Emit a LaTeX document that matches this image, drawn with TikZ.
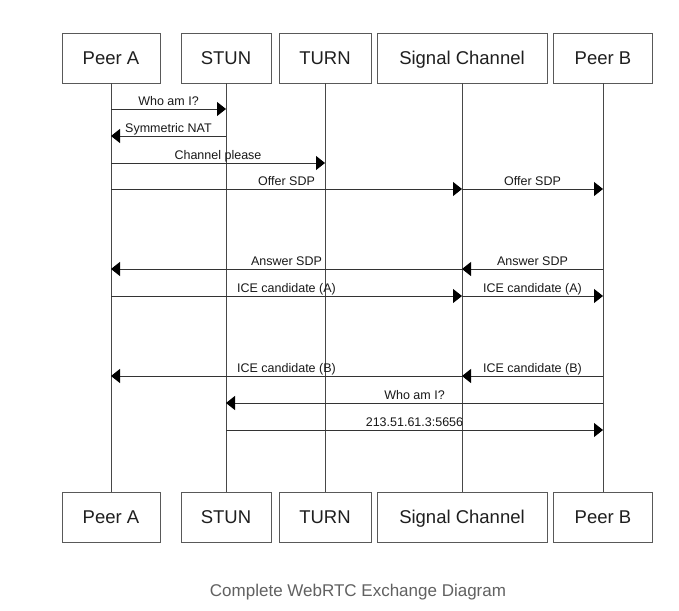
\documentclass[tikz,border=0pt]{standalone}
\usepackage{fontspec}
\setmainfont{Liberation Sans}
\usetikzlibrary{arrows.meta}
\begin{document}
\begin{tikzpicture}[x=1pt,y=-1pt,
  actor/.style={draw=black!65, line width=0.9pt, minimum height=50pt, inner sep=0pt,
    text height=13.2pt, text depth=0pt,
    font=\fontsize{18.5}{20}\selectfont, text=black!88},
  life/.style={draw=black!72, line width=0.8pt},
  msg/.style={draw=black!80, line width=0.9pt,
    -{Triangle[length=9pt,width=14pt,color=black,fill=black]}},
  lbl/.style={font=\fontsize{12.5}{13}\selectfont, text=black!90, inner sep=3.5pt,
    text depth=0pt, above, midway}
]
\fill[white] (0,0) rectangle (679,610);
\useasboundingbox (0,0) rectangle (679,610);

% top actors
\node[actor, minimum width=98pt]  (tA) at (111,58) {Peer A};
\node[actor, minimum width=90pt]  (tS) at (226,58) {STUN};
\node[actor, minimum width=92pt]  (tT) at (325,58) {TURN};
\node[actor, minimum width=170pt] (tC) at (462,58) {Signal Channel};
\node[actor, minimum width=99pt]  (tB) at (603,58) {Peer B};
% bottom actors
\node[actor, minimum width=98pt]  (bA) at (111,517) {Peer A};
\node[actor, minimum width=90pt]  (bS) at (226,517) {STUN};
\node[actor, minimum width=92pt]  (bT) at (325,517) {TURN};
\node[actor, minimum width=170pt] (bC) at (462,517) {Signal Channel};
\node[actor, minimum width=99pt]  (bB) at (603,517) {Peer B};

% lifelines
\draw[life] (tA) -- (bA);
\draw[life] (tS) -- (bS);
\draw[life] (tT) -- (bT);
\draw[life] (tC) -- (bC);
\draw[life] (tB) -- (bB);

% messages
\draw[msg] (tA.south |- 0,109) -- node[lbl]{Who am I?} (tS.south |- 0,109);
\draw[msg] (tS.south |- 0,136) -- node[lbl]{Symmetric NAT} (tA.south |- 0,136);
\draw[msg] (tA.south |- 0,163) -- node[lbl]{Channel please} (tT.south |- 0,163);
\draw[msg] (tA.south |- 0,189) -- node[lbl]{Offer SDP} (tC.south |- 0,189);
\draw[msg] (tC.south |- 0,189) -- node[lbl]{Offer SDP} (tB.south |- 0,189);
\draw[msg] (tB.south |- 0,269) -- node[lbl]{Answer SDP} (tC.south |- 0,269);
\draw[msg] (tC.south |- 0,269) -- node[lbl]{Answer SDP} (tA.south |- 0,269);
\draw[msg] (tA.south |- 0,296) -- node[lbl]{ICE candidate (A)} (tC.south |- 0,296);
\draw[msg] (tC.south |- 0,296) -- node[lbl]{ICE candidate (A)} (tB.south |- 0,296);
\draw[msg] (tB.south |- 0,376) -- node[lbl]{ICE candidate (B)} (tC.south |- 0,376);
\draw[msg] (tC.south |- 0,376) -- node[lbl]{ICE candidate (B)} (tA.south |- 0,376);
\draw[msg] (tB.south |- 0,403) -- node[lbl]{Who am I?} (tS.south |- 0,403);
\draw[msg] (tS.south |- 0,430) -- node[lbl]{213.51.61.3:5656} (tB.south |- 0,430);

% caption
\node[font=\fontsize{17}{19}\selectfont, text=black!62] (cap) at (358,592)
  {Complete WebRTC Exchange Diagram};
\end{tikzpicture}
\end{document}
